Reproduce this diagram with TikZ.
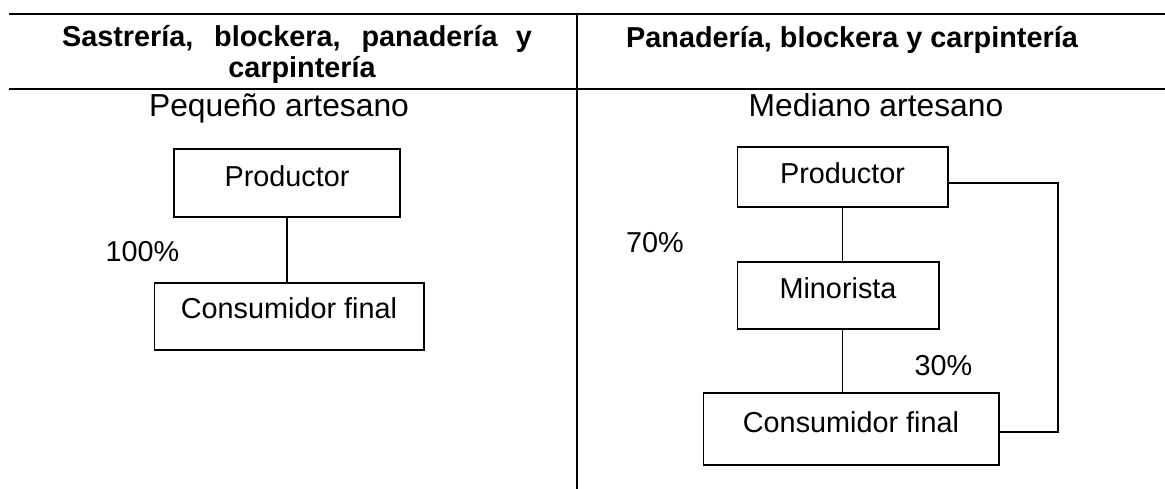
\documentclass[tikz,border=0pt]{standalone}
\usepackage{fontspec}
\setmainfont{Liberation Sans}
\usetikzlibrary{calc}

\begin{document}
\begin{tikzpicture}[x=0.02cm, y=-0.02cm]
        % ================= styles =================
        \tikzset{
            % table rules
            table_rule/.style={line width=1.2pt, black},
            % boxes of the channel
            chbox/.style={draw=black, line width=0.6pt, inner xsep=0pt, inner ysep=0pt, font=\fontsize{16.4}{19}\selectfont},
            % links between boxes
            link/.style={line width=0.7pt, black},
            % plain texts
            plain_text/.style={font=\fontsize{16.4}{19}\selectfont, anchor=base},
            row_text/.style={font=\fontsize{18.1}{21}\selectfont, anchor=base},
            head_text/.style={font=\fontsize{16.4}{19}\selectfont\bfseries, anchor=base}
        }
        \useasboundingbox (0,0) rectangle (1165,489);

        % ================= table =================
        \coordinate (top_l) at (9,14);
        \coordinate (top_r) at (1165,14);
        \coordinate (mid_l) at (9,89);
        \coordinate (mid_r) at (1165,89);
        \coordinate (div_t) at (577,14);
        \coordinate (div_b) at (577,489);
        \draw[table_rule] (top_l) -- (top_r);
        \draw[table_rule] (mid_l) -- (mid_r);
        \draw[table_rule] (div_t) -- (div_b);

        \node[head_text] (headL1) at (297,47) {\makebox[9.4cm][s]{Sastrería, blockera, panadería y}};
        \node[head_text] (headL2) at (302,78) {carpintería};
        \node[head_text] (headR) at (852,48) {Panadería, blockera y carpintería};

        \node[row_text] (pequeno) at (279,117) {Pequeño artesano};
        \node[row_text] (mediano) at (876,117) {Mediano artesano};

        % ================= left: pequeño artesano =================
        \node[chbox, minimum width=4.52cm, text height=0.76cm, text depth=0.60cm] (prodL) at (287,183) {Productor};
        \node[chbox, minimum width=5.40cm, text height=0.72cm, text depth=0.62cm] (consL) at (289,316.5) {Consumidor final};
        \draw[link] (prodL.south) -- (consL.north -| prodL.south);
        \node[plain_text] (pctL) at (142.5,262) {100\%};

        % ================= right: mediano artesano =================
        \node[chbox, minimum width=4.22cm, text height=0.74cm, text depth=0.46cm] (prodR) at (842.5,177) {Productor};
        \node[chbox, minimum width=4.04cm, text height=0.74cm, text depth=0.60cm] (minR) at (838,295.5) {Minorista};
        \node[chbox, minimum width=5.92cm, text height=0.78cm, text depth=0.66cm] (consR) at (851,429) {Consumidor final};

        \draw[link] (prodR.south) -- (minR.north -| prodR.south);
        \draw[link] (minR.south -| prodR.south) -- (consR.north -| prodR.south);

        % direct way producer -> consumer
        \coordinate (ret_t) at (1058,183);
        \coordinate (ret_b) at (1058,432);
        \draw[link, line width=0.9pt] (prodR.east |- ret_t) -- (ret_t) -- (ret_b) -- (consR.east |- ret_b);

        \node[plain_text] (pct70) at (655,253) {70\%};
        \node[plain_text] (pct30) at (943.5,375) {30\%};

    \end{tikzpicture}
\end{document}
